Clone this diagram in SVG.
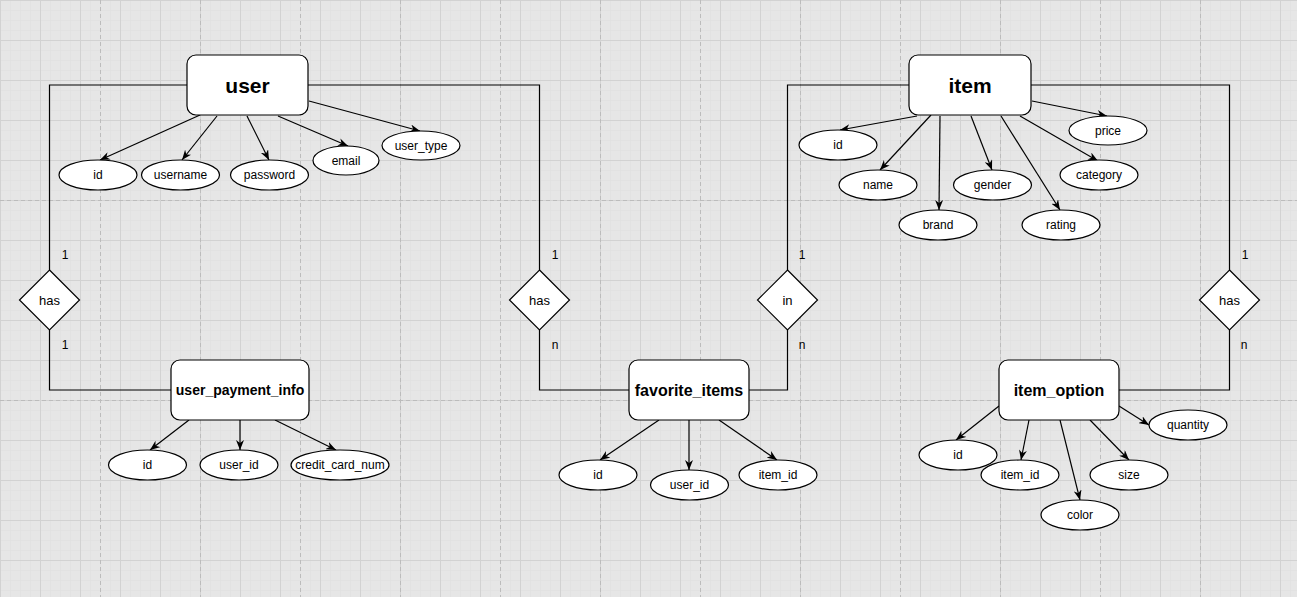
<svg xmlns="http://www.w3.org/2000/svg" width="1297" height="597" viewBox="0 0 1297 597">
<defs>
<pattern id="gFine" width="10" height="10" patternUnits="userSpaceOnUse">
<path d="M0,0 H10 M0,0 V10" stroke="#dedede" stroke-width="1" fill="none"/>
</pattern>
<pattern id="gMid" width="40" height="40" patternUnits="userSpaceOnUse">
<path d="M0,0.5 H40 M0.5,0 V40" stroke="#d2d2d2" stroke-width="1" fill="none"/>
</pattern>
<marker id="arr" viewBox="0 0 10 8" refX="10" refY="4" markerWidth="10" markerHeight="8" markerUnits="userSpaceOnUse" orient="auto">
<path d="M0,0 L10,4 L0,8 L3,4 z" fill="#000"/>
</marker>
</defs>
<style>
.ent{fill:#fff;stroke:#000;stroke-width:1.2}
.att{fill:#fff;stroke:#000;stroke-width:1.2}
.rel{fill:#fff;stroke:#000;stroke-width:1.2}
.edge{fill:none;stroke:#000;stroke-width:1.2}
.arrow{fill:none;stroke:#000;stroke-width:1.2;marker-end:url(#arr)}
text{font-family:"Liberation Sans",Arial,Helvetica,sans-serif;fill:#000;text-anchor:middle;dominant-baseline:central}
.t12{font-size:12px}
.t13{font-size:13px}
.big{font-size:21px;font-weight:bold}
.mid{font-size:16px;font-weight:bold}
.sm{font-size:14px;font-weight:bold}
.dash{stroke:#bcbcbc;stroke-width:1;stroke-dasharray:4 3;fill:none}
</style>
<rect x="0" y="0" width="1297" height="597" fill="#e6e6e6"/>
<rect x="0" y="0" width="1297" height="597" fill="url(#gFine)"/>
<rect x="0" y="0" width="1297" height="597" fill="url(#gMid)"/>
<path class="dash" d="M100.5,0V597 M200.5,0V597 M300.5,0V597 M400.5,0V597 M500.5,0V597 M600.5,0V597 M700.5,0V597 M800.5,0V597 M900.5,0V597 M1000.5,0V597 M1100.5,0V597 M1200.5,0V597 M0,200.5H1297 M0,400.5H1297"/>

<g id="connectors">
<!-- relationships -->
<path class="edge" d="M187,85 H49.5 V270"/>
<path class="edge" d="M49.5,330 V390 H171"/>
<path class="edge" d="M308,85 H539.5 V270"/>
<path class="edge" d="M539.5,330 V390 H629"/>
<path class="edge" d="M749,390 H787.5 V330"/>
<path class="edge" d="M787.5,270 V85 H909"/>
<path class="edge" d="M1031,85 H1229.5 V270"/>
<path class="edge" d="M1229.5,330 V390 H1119"/>
<!-- user attributes -->
<path class="arrow" d="M200,115 L100,160"/>
<path class="arrow" d="M217,116 L182,160"/>
<path class="arrow" d="M247,116 L269,160"/>
<path class="arrow" d="M278,116 L348,146"/>
<path class="arrow" d="M309,101 L420,131"/>
<!-- user_payment_info attributes -->
<path class="arrow" d="M189,420 L150,450"/>
<path class="arrow" d="M240,420 L240,450"/>
<path class="arrow" d="M275,420 L336,450"/>
<!-- favorite_items attributes -->
<path class="arrow" d="M659,420 L600,460"/>
<path class="arrow" d="M689,420 L689,470"/>
<path class="arrow" d="M719,420 L777,460"/>
<!-- item attributes -->
<path class="arrow" d="M917,116 L840,130"/>
<path class="arrow" d="M931,115 L880,170"/>
<path class="arrow" d="M940,116 L939,210"/>
<path class="arrow" d="M971,116 L992,170"/>
<path class="arrow" d="M1001,116 L1060,210"/>
<path class="arrow" d="M1020,116 L1098,161"/>
<path class="arrow" d="M1032,101 L1107,116"/>
<!-- item_option attributes -->
<path class="arrow" d="M999,406 L956,440"/>
<path class="arrow" d="M1029,420 L1021,460"/>
<path class="arrow" d="M1060,420 L1080,500"/>
<path class="arrow" d="M1090,420 L1129,460"/>
<path class="arrow" d="M1119,406 L1149,425"/>
<!-- cardinality labels -->
<text class="t12" x="65" y="255">1</text>
<text class="t12" x="65" y="345">1</text>
<text class="t12" x="555" y="255">1</text>
<text class="t12" x="555" y="345">n</text>
<text class="t12" x="802" y="255">1</text>
<text class="t12" x="802" y="345">n</text>
<text class="t12" x="1245" y="255">1</text>
<text class="t12" x="1244" y="345">n</text>
</g>

<g id="user">
<rect class="ent" x="187" y="55" width="121" height="60" rx="9"/>
<text class="big" x="247.5" y="85">user</text>
</g>
<g id="user_id_attr"><ellipse class="att" cx="98" cy="175" rx="39" ry="15"/><text class="t12" x="98" y="175">id</text></g>
<g id="user_username"><ellipse class="att" cx="180.5" cy="175" rx="39" ry="15"/><text class="t12" x="180.5" y="175">username</text></g>
<g id="user_password"><ellipse class="att" cx="269.5" cy="175" rx="39" ry="15"/><text class="t12" x="269.5" y="175">password</text></g>
<g id="user_email"><ellipse class="att" cx="346" cy="160.5" rx="33" ry="14.5"/><text class="t12" x="346" y="160.5">email</text></g>
<g id="user_user_type"><ellipse class="att" cx="421" cy="145.5" rx="39" ry="14.5"/><text class="t12" x="421" y="145.5">user_type</text></g>

<g id="rel_has_payment"><polygon class="rel" points="49.5,270 79.5,300 49.5,330 19.5,300"/><text class="t13" x="49.5" y="300">has</text></g>

<g id="user_payment_info">
<rect class="ent" x="171" y="360" width="138" height="60" rx="9"/>
<text class="sm" x="240" y="390">user_payment_info</text>
</g>
<g id="upi_id"><ellipse class="att" cx="147.5" cy="465" rx="39" ry="15"/><text class="t12" x="147.5" y="465">id</text></g>
<g id="upi_user_id"><ellipse class="att" cx="239" cy="465" rx="39" ry="15"/><text class="t12" x="239" y="465">user_id</text></g>
<g id="upi_credit_card_num"><ellipse class="att" cx="340" cy="465" rx="49" ry="15"/><text class="t12" x="340" y="465">credit_card_num</text></g>

<g id="rel_has_fav"><polygon class="rel" points="539.5,270 569.5,300 539.5,330 509.5,300"/><text class="t13" x="539.5" y="300">has</text></g>

<g id="favorite_items">
<rect class="ent" x="629" y="360" width="120" height="60" rx="9"/>
<text class="mid" x="689" y="390">favorite_items</text>
</g>
<g id="fav_id"><ellipse class="att" cx="598" cy="475" rx="39" ry="15"/><text class="t12" x="598" y="475">id</text></g>
<g id="fav_user_id"><ellipse class="att" cx="689.5" cy="485" rx="39" ry="15"/><text class="t12" x="689.5" y="485">user_id</text></g>
<g id="fav_item_id"><ellipse class="att" cx="778" cy="475" rx="39" ry="15"/><text class="t12" x="778" y="475">item_id</text></g>

<g id="rel_in"><polygon class="rel" points="787.5,270 817.5,300 787.5,330 757.5,300"/><text class="t13" x="787.5" y="300">in</text></g>

<g id="item">
<rect class="ent" x="909" y="55" width="122" height="60" rx="9"/>
<text class="big" x="970" y="85">item</text>
</g>
<g id="item_id_attr"><ellipse class="att" cx="838" cy="145" rx="39" ry="15"/><text class="t12" x="838" y="145">id</text></g>
<g id="item_name"><ellipse class="att" cx="878" cy="185" rx="39" ry="15"/><text class="t12" x="878" y="185">name</text></g>
<g id="item_brand"><ellipse class="att" cx="938" cy="225" rx="39" ry="15"/><text class="t12" x="938" y="225">brand</text></g>
<g id="item_gender"><ellipse class="att" cx="992.5" cy="185" rx="39" ry="15"/><text class="t12" x="992.5" y="185">gender</text></g>
<g id="item_rating"><ellipse class="att" cx="1061" cy="225" rx="39" ry="15"/><text class="t12" x="1061" y="225">rating</text></g>
<g id="item_category"><ellipse class="att" cx="1099" cy="175" rx="39" ry="15"/><text class="t12" x="1099" y="175">category</text></g>
<g id="item_price"><ellipse class="att" cx="1108" cy="130.5" rx="39" ry="14.5"/><text class="t12" x="1108" y="130.5">price</text></g>

<g id="rel_has_option"><polygon class="rel" points="1229.5,270 1259.5,300 1229.5,330 1199.5,300"/><text class="t13" x="1229.5" y="300">has</text></g>

<g id="item_option">
<rect class="ent" x="999" y="360" width="120" height="60" rx="9"/>
<text class="mid" x="1059" y="390">item_option</text>
</g>
<g id="opt_id"><ellipse class="att" cx="958" cy="455" rx="39" ry="15"/><text class="t12" x="958" y="455">id</text></g>
<g id="opt_item_id"><ellipse class="att" cx="1020" cy="475" rx="39" ry="15"/><text class="t12" x="1020" y="475">item_id</text></g>
<g id="opt_color"><ellipse class="att" cx="1080" cy="515" rx="39" ry="15"/><text class="t12" x="1080" y="515">color</text></g>
<g id="opt_size"><ellipse class="att" cx="1129" cy="475" rx="39" ry="15"/><text class="t12" x="1129" y="475">size</text></g>
<g id="opt_quantity"><ellipse class="att" cx="1188" cy="425" rx="39" ry="15"/><text class="t12" x="1188" y="425">quantity</text></g>
</svg>
